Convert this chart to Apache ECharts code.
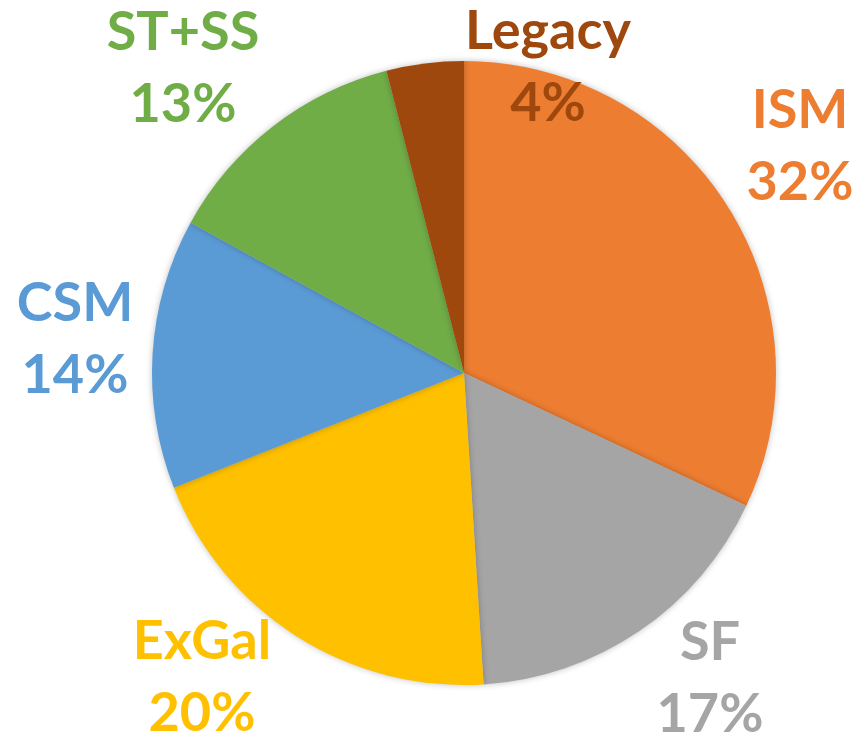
<!DOCTYPE html>
<html>
<head>
<meta charset="utf-8">
<script src="https://cdn.jsdelivr.net/npm/echarts@6/dist/echarts.min.js"></script>
<style>
  html, body { margin: 0; padding: 0; background: #fff; }
  #chart { width: 859px; height: 740px; }
</style>
</head>
<body>
<div id="chart"></div>
<script>
// share of each science area, clockwise from 12 o'clock
const categories = ['ISM', 'SF', 'ExGal', 'CSM', 'ST+SS', 'Legacy'];
const shares = [32, 17, 20, 14, 13, 4];
const colors = ['#ED7D31', '#A5A5A5', '#FFC000', '#5B9BD5', '#70AD47', '#9E480E'];

// where each label block sits (centre of the two lines)
const labelSpots = [[800, 147], [710, 679], [202, 678], [75, 340], [183, 69], [548, 68]];

const chart = echarts.init(document.getElementById('chart'));

chart.setOption({
	animation: false,
	series: [{
		type: 'pie',
		center: [464, 373],
		radius: 312,
		startAngle: 90,
		clockwise: true,
		data: categories.map((name, i) => ({
			name: name,
			value: shares[i],
			itemStyle: {color: colors[i]},
			label: {color: colors[i]}
		})),
		itemStyle: {
			borderWidth: 0,
			shadowBlur: 6,
			shadowColor: 'rgba(0,0,0,0.25)'
		},
		label: {
			show: true,
			position: 'outside',
			formatter: '{b}\n{c}%',
			fontFamily: 'Lato',
			fontWeight: 'bold',
			fontSize: 54,
			lineHeight: 72,
			align: 'center',
			overflow: 'none',
			width: 220
		},
		labelLine: {show: false},
		labelLayout: (params) => ({
			x: labelSpots[params.dataIndex][0],
			y: labelSpots[params.dataIndex][1],
			align: 'center',
			verticalAlign: 'middle'
		})
	}]
});
</script>
</body>
</html>
